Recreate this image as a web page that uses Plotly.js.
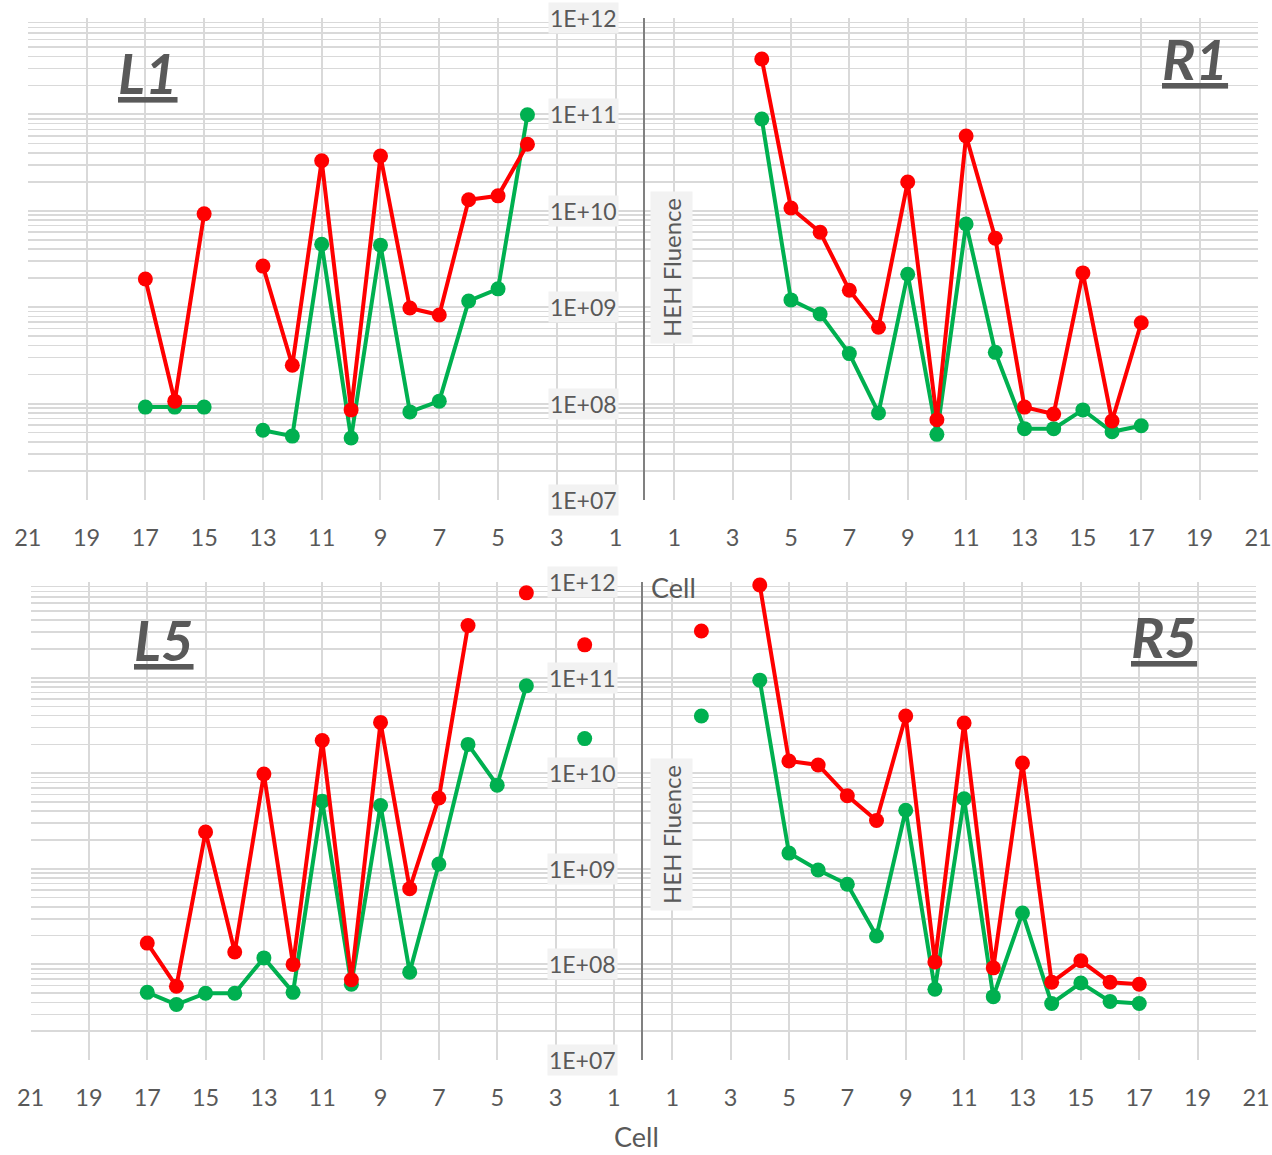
<!DOCTYPE html>
<html><head><meta charset="utf-8">
<script src="https://cdn.plot.ly/plotly-3.0.1.min.js"></script>
<style>html,body{margin:0;padding:0;background:#fff;}#chart{width:1272px;height:1155px;}</style>
</head><body><div id="chart"></div>
<script>
// ---- data ----
const cells = [2,3,4,5,6,7,8,9,10,11,12,13,14,15,16,17];
const cellTicks = [1,3,5,7,9,11,13,15,17,19,21];
const tickVals = [1e7,1e8,1e9,1e10,1e11,1e12];
const tickText = ['1E+07','1E+08','1E+09','1E+10','1E+11','1E+12'];
const panelNames = ['L1','R1','L5','R5'];
const yTitle = 'HEH Fluence';
const xTitle = 'Cell';

const L1_red   = [null,null,4.9e10,1.43e10,1.3e10,8.3e8,9.8e8,3.7e10,8.6e7,3.3e10,2.5e8,2.67e9,null,9.3e9,1.06e8,1.96e9];
const L1_green = [null,null,9.9e10,1.55e9,1.16e9,1.06e8,8.2e7,4.4e9,4.4e7,4.5e9,4.6e7,5.3e7,null,9.2e7,9.2e7,9.2e7];
const R1_red   = [null,null,3.76e11,1.07e10,6.0e9,1.5e9,6.2e8,1.99e10,6.8e7,5.97e10,5.2e9,9.2e7,7.8e7,2.27e9,6.6e7,6.9e8];
const R1_green = [null,null,8.96e10,1.19e9,8.5e8,3.3e8,8.0e7,2.2e9,4.8e7,7.3e9,3.4e8,5.5e7,5.5e7,8.6e7,5.1e7,5.9e7];
const L5_red   = [2.2e11,null,7.7e11,null,3.5e11,5.5e9,6.2e8,3.4e10,6.9e7,2.2e10,1.0e8,9.8e9,1.35e8,2.43e9,5.9e7,1.67e8];
const L5_green = [2.3e10,null,8.2e10,7.5e9,2.0e10,1.12e9,8.3e7,4.6e9,6.2e7,5.1e9,5.1e7,1.17e8,5.0e7,5.0e7,3.8e7,5.1e7];
const R5_red   = [3.07e11,null,9.3e11,1.34e10,1.22e10,5.8e9,3.2e9,3.96e10,1.06e8,3.35e10,9.2e7,1.28e10,6.5e7,1.09e8,6.5e7,6.2e7];
const R5_green = [3.96e10,null,9.4e10,1.46e9,9.7e8,6.9e8,1.98e8,4.1e9,5.5e7,5.4e9,4.6e7,3.45e8,3.9e7,6.4e7,4.1e7,3.9e7];

// ---- style ----
const W = 1272, H = 1155;
const FONT = 'Lato, "Open Sans", sans-serif';
const GREY = '#595959';
const GRID = '#d9d9d9';
const RED = '#ff0000', GREEN = '#00b050';

function series(x, y, color, xa, ya) {
  return {x: x, y: y, xaxis: xa, yaxis: ya, type: 'scatter', mode: 'lines+markers',
    connectgaps: false, cliponaxis: false, hoverinfo: 'skip', showlegend: false,
    line: {color: color, width: 4}, marker: {color: color, size: 15}};
}
const traces = [
  series(cells, L1_green, GREEN, 'x', 'y'),  series(cells, L1_red, RED, 'x', 'y'),
  series(cells, R1_green, GREEN, 'x2', 'y2'), series(cells, R1_red, RED, 'x2', 'y2'),
  series(cells, L5_green, GREEN, 'x3', 'y3'), series(cells, L5_red, RED, 'x3', 'y3'),
  series(cells, R5_green, GREEN, 'x4', 'y4'), series(cells, R5_red, RED, 'x4', 'y4')
];

const px = v => v / W, py = v => 1 - v / H;

function xaxis(domain, range, anchor) {
  return {domain: domain, range: range, anchor: anchor, tickmode: 'array', tickvals: cellTicks,
    ticktext: cellTicks.map(String), showgrid: true, gridcolor: GRID, gridwidth: 2,
    zeroline: false, showline: false, ticks: '', ticklabelstandoff: 21, ticklabeloverflow: 'allow',
    tickfont: {family: FONT, size: 23.5, color: GREY}, fixedrange: true};
}
function yaxis(domain, anchor, line) {
  return {domain: domain, anchor: anchor, type: 'log', range: [7, 12], dtick: 1,
    showticklabels: false, showgrid: true, gridcolor: GRID, gridwidth: 2, zeroline: false,
    showline: line, linecolor: '#808080', linewidth: 2, ticks: '',
    minor: {showgrid: true, gridcolor: GRID, gridwidth: 1.5, dtick: 'D1', ticks: ''},
    fixedrange: true};
}

const topY = [py(500), py(18)], botY = [py(1060), py(582)];
const layout = {
  width: W, height: H, margin: {l: 0, r: 0, t: 0, b: 0},
  paper_bgcolor: '#ffffff', plot_bgcolor: 'rgba(0,0,0,0)',
  font: {family: FONT, color: GREY},
  xaxis:  xaxis([px(27.8), px(645)], [21, 0], 'y'),
  xaxis2: xaxis([px(645), px(1258)], [0, 21], 'y2'),
  xaxis3: xaxis([px(30.6), px(643)], [21, 0], 'y3'),
  xaxis4: xaxis([px(643), px(1256)], [0, 21], 'y4'),
  yaxis:  yaxis(topY, 'x', false),
  yaxis2: yaxis(topY, 'x2', true),
  yaxis3: yaxis(botY, 'x3', false),
  yaxis4: yaxis(botY, 'x4', true),
  annotations: []
};

// y tick labels with light boxes (left panels)
[['y', 619], ['y3', 618]].forEach(function (p) {
  tickVals.forEach(function (v, i) {
    layout.annotations.push({xref: 'paper', x: px(p[1]), xanchor: 'right', yref: p[0], y: Math.log10(v),
      yanchor: 'middle', text: tickText[i], showarrow: false, bgcolor: '#f2f2f2', borderpad: 1,
      font: {family: FONT, size: 23, color: GREY}});
  });
});
// axis titles
[[671, 268], [672, 835]].forEach(function (p) {
  layout.annotations.push({xref: 'paper', yref: 'paper', x: px(p[0]), y: py(p[1]), xanchor: 'center',
    yanchor: 'middle', text: yTitle, textangle: -90, showarrow: false, bgcolor: '#f2f2f2', borderpad: 6,
    font: {family: FONT, size: 24, color: GREY}});
});
layout.annotations.push({xref: 'paper', yref: 'paper', x: px(673), y: py(587), xanchor: 'center',
  yanchor: 'middle', text: xTitle, showarrow: false, font: {family: FONT, size: 27, color: GREY}});
layout.annotations.push({xref: 'paper', yref: 'paper', x: px(636), y: 0, xanchor: 'center',
  yanchor: 'bottom', text: xTitle, showarrow: false, font: {family: FONT, size: 27, color: GREY}});
// panel names
[[148, 72], [1195, 59], [164, 639], [1164, 636]].forEach(function (p, i) {
  layout.annotations.push({xref: 'paper', yref: 'paper', x: px(p[0]), y: py(p[1]), xanchor: 'center',
    yanchor: 'middle', text: '<b><i><u>' + panelNames[i] + '</u></i></b>', showarrow: false,
    font: {family: FONT, size: 56, color: GREY}});
});

Plotly.newPlot('chart', traces, layout, {staticPlot: true, displayModeBar: false});
</script>
</body></html>
